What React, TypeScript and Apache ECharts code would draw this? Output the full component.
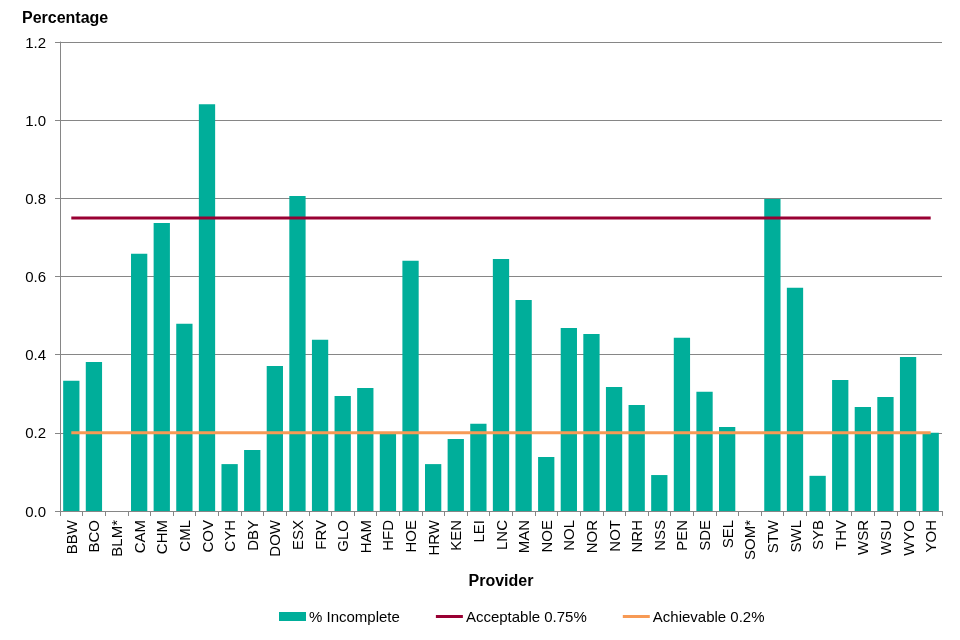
import React, { useEffect, useRef } from "react";
import * as echarts from "echarts";

const providers = [
  "BBW", "BCO", "BLM*", "CAM", "CHM", "CML", "COV", "CYH", "DBY", "DOW",
  "ESX", "FRV", "GLO", "HAM", "HFD", "HOE", "HRW", "KEN", "LEI", "LNC",
  "MAN", "NOE", "NOL", "NOR", "NOT", "NRH", "NSS", "PEN", "SDE", "SEL",
  "SOM*", "STW", "SWL", "SYB", "THV", "WSR", "WSU", "WYO", "YOH",
];

const incomplete = [
  0.333, 0.381, 0, 0.658, 0.737, 0.479, 1.041, 0.12, 0.156, 0.371,
  0.806, 0.438, 0.294, 0.315, 0.2, 0.64, 0.12, 0.184, 0.223, 0.645,
  0.54, 0.138, 0.468, 0.453, 0.317, 0.271, 0.092, 0.443, 0.305, 0.215,
  0, 0.798, 0.571, 0.09, 0.335, 0.266, 0.292, 0.394, 0.2,
];

const acceptableLevel = 0.75;
const achievableLevel = 0.2;
const yTicks = [0, 0.2, 0.4, 0.6, 0.8, 1.0, 1.2];

const FONT = "Liberation Sans, Arial, sans-serif";
const LINE_ICON = "path://M0,0 H27 V3 H0 Z";

export default function App() {
  const ref = useRef<HTMLDivElement>(null);

  useEffect(() => {
    if (!ref.current) return;
    const chart = echarts.init(ref.current, undefined, { renderer: "svg" });
    const acceptable = providers.map(() => acceptableLevel);
    const achievable = providers.map(() => achievableLevel);
    chart.setOption({
      animation: false,
      textStyle: { fontFamily: FONT, color: "#000" },
      title: {
        text: "Percentage",
        left: 17,
        top: 4,
        textStyle: { fontFamily: FONT, fontSize: 16, fontWeight: "bold", color: "#000" },
      },
      grid: { left: 60, right: 18, top: 42, bottom: 129, containLabel: false },
      legend: {
        top: 604,
        left: 274,
        itemGap: 36,
        itemWidth: 27,
        itemHeight: 9,
        symbolKeepAspect: true,
        textStyle: { fontFamily: FONT, fontSize: 15, color: "#000", padding: [0, 0, 0, -2] },
        data: [
          { name: "% Incomplete", icon: "rect" },
          { name: "Acceptable 0.75%", icon: LINE_ICON },
          { name: "Achievable 0.2%", icon: LINE_ICON },
        ],
      },
      xAxis: {
        type: "category",
        data: providers,
        boundaryGap: true,
        name: "Provider",
        nameLocation: "middle",
        nameGap: 61,
        nameTextStyle: { fontFamily: FONT, fontSize: 16, fontWeight: "bold", color: "#000" },
        axisLine: { lineStyle: { color: "#868686", width: 1 } },
        axisTick: { show: true, alignWithLabel: false, length: 5, lineStyle: { color: "#868686" } },
        axisLabel: {
          rotate: 90,
          interval: 0,
          fontFamily: FONT,
          fontSize: 15,
          color: "#000",
          margin: 9,
        },
      },
      yAxis: {
        type: "value",
        min: 0,
        max: yTicks[yTicks.length - 1],
        interval: 0.2,
        axisLine: { show: true, lineStyle: { color: "#868686", width: 1 } },
        axisTick: { show: true, length: 5, lineStyle: { color: "#868686" } },
        splitLine: { show: true, lineStyle: { color: "#868686", width: 1 } },
        axisLabel: {
          fontFamily: FONT,
          fontSize: 15,
          color: "#000",
          margin: 14,
          formatter: (v: number) => v.toFixed(1),
        },
      },
      series: [
        {
          name: "% Incomplete",
          type: "bar",
          data: incomplete,
          barCategoryGap: "28%",
          itemStyle: { color: "#00AE9A" },
        },
        {
          name: "Acceptable 0.75%",
          type: "line",
          data: acceptable,
          symbol: "none",
          lineStyle: { color: "#990033", width: 3 },
          itemStyle: { color: "#990033" },
        },
        {
          name: "Achievable 0.2%",
          type: "line",
          data: achievable,
          symbol: "none",
          lineStyle: { color: "#F79A55", width: 3 },
          itemStyle: { color: "#F79A55" },
        },
      ],
    });
    return () => chart.dispose();
  }, []);

  return (
    <div
      ref={ref}
      style={{ position: "fixed", left: 0, top: 0, width: 960, height: 640 }}
    />
  );
}
